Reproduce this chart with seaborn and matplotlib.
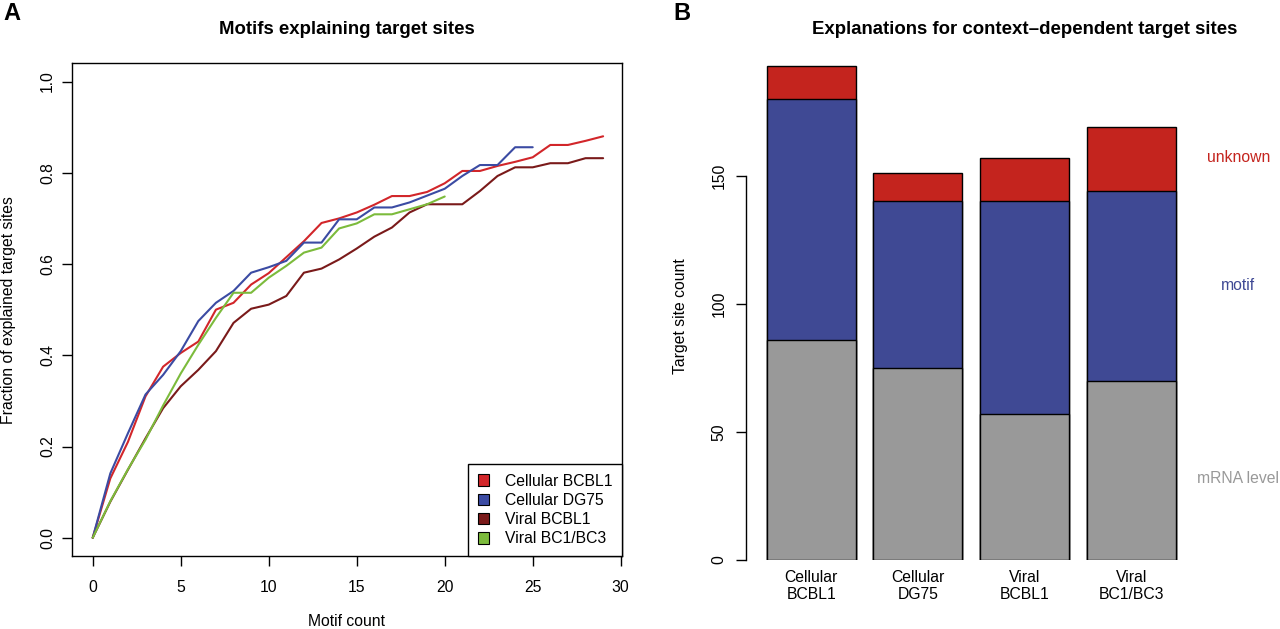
import numpy as np
import pandas as pd
import matplotlib
matplotlib.use("Agg")
import matplotlib.pyplot as plt
from matplotlib.patches import Patch
import seaborn as sns

sns.set_style("ticks", {"axes.edgecolor": "black", "xtick.color": "black", "ytick.color": "black",
                        "text.color": "black", "axes.labelcolor": "black"})
plt.rcParams["font.family"] = ["Liberation Sans", "DejaVu Sans"]

# %%
# panel A: fraction of explained target sites vs number of motifs
frac_cellular_bcbl1 = [0.0, 0.13, 0.21, 0.31, 0.375, 0.405, 0.43, 0.50, 0.515, 0.555,
                       0.58, 0.615, 0.65, 0.69, 0.70, 0.713, 0.73, 0.749, 0.749, 0.758,
                       0.777, 0.804, 0.804, 0.815, 0.824, 0.834, 0.861, 0.861, 0.87, 0.88]
frac_cellular_dg75 = [0.0, 0.141, 0.229, 0.314, 0.357, 0.409, 0.475, 0.515, 0.541, 0.581,
                      0.593, 0.607, 0.647, 0.647, 0.698, 0.698, 0.724, 0.724, 0.735, 0.75,
                      0.765, 0.793, 0.817, 0.817, 0.856, 0.856]
frac_viral_bcbl1 = [0.0, 0.079, 0.149, 0.218, 0.284, 0.332, 0.368, 0.409, 0.471, 0.502,
                    0.511, 0.53, 0.581, 0.59, 0.61, 0.634, 0.66, 0.68, 0.713, 0.731,
                    0.731, 0.731, 0.76, 0.793, 0.812, 0.812, 0.821, 0.821, 0.832, 0.832]
frac_viral_bc1bc3 = [0.0, 0.08, 0.15, 0.215, 0.29, 0.36, 0.423, 0.482, 0.537, 0.537,
                     0.57, 0.596, 0.625, 0.636, 0.678, 0.689, 0.709, 0.709, 0.72, 0.731,
                     0.748]
series_names = ["Cellular BCBL1", "Cellular DG75", "Viral BCBL1", "Viral BC1/BC3"]
series_colors = ["#D2262A", "#3B4BA3", "#7A1A1A", "#7CBB3C"]

# panel B: stacked explanation counts
bar_labels = ["Cellular\nBCBL1", "Cellular\nDG75", "Viral\nBCBL1", "Viral\nBC1/BC3"]
count_mrna = [86, 75, 57, 70]
count_motif = [94, 65, 83, 74]
count_unknown = [13, 11, 17, 25]
stack_names = ["mRNA level", "motif", "unknown"]
stack_colors = ["#999999", "#3F4994", "#C4241E"]
stack_label_y = [32, 107, 157]  # where the side labels sit

# %%
df = pd.concat([
    pd.DataFrame({"motifs": range(len(v)), "fraction": v, "set": name})
    for name, v in zip(series_names, [frac_cellular_bcbl1, frac_cellular_dg75,
                                      frac_viral_bcbl1, frac_viral_bc1bc3])
])

W, H = 1280, 629
def px_box(l, t, r, b):
    return [l / W, 1 - b / H, (r - l) / W, (b - t) / H]

fig = plt.figure(figsize=(W / 100, H / 100), dpi=100)

# ---- A
ax = fig.add_axes(px_box(72.3, 63.3, 622.3, 556))
sns.lineplot(data=df, x="motifs", y="fraction", hue="set", hue_order=series_names,
             palette=dict(zip(series_names, series_colors)), estimator=None,
             linewidth=1.5, legend=False, ax=ax)
ax.set_xlim(-1.16, 30.09)
ax.set_ylim(-0.040, 1.040)
ax.set_xticks(range(0, 31, 5))
ax.set_yticks([0, 0.2, 0.4, 0.6, 0.8, 1.0])
ax.set_yticklabels(["0.0", "0.2", "0.4", "0.6", "0.8", "1.0"], rotation=90, va="center")
ax.tick_params(axis="both", length=7.2, width=1, labelsize=11.3)
ax.tick_params(axis="x", pad=10)
ax.tick_params(axis="y", pad=5.3)
for s in ax.spines.values():
    s.set_linewidth(1)
ax.set_xlabel("")
ax.set_ylabel("")

handles = [Patch(facecolor=c, edgecolor="black", linewidth=0.8) for c in series_colors]
leg = ax.legend(handles, series_names, loc="lower right", bbox_to_anchor=(1, 0),
                borderaxespad=0, fontsize=11.3, fancybox=False, framealpha=1,
                edgecolor="black", handlelength=0.75, handleheight=0.75,
                handletextpad=1.0, labelspacing=0.27, borderpad=0.62)
leg.get_frame().set_linewidth(1)

# ---- B
ax2 = fig.add_axes(px_box(746, 63.3, 1303, 560))
cum_motif = [m + mo for m, mo in zip(count_mrna, count_motif)]
cum_total = [c + u for c, u in zip(cum_motif, count_unknown)]
for heights, col in zip([cum_total, cum_motif, count_mrna], stack_colors[::-1]):
    sns.barplot(x=bar_labels, y=heights, color=col, saturation=1, width=0.833,
                edgecolor="black", linewidth=1, ax=ax2)
ax2.set_xlim(-0.61, 4.605)
ax2.set_ylim(0, 193.9)
ax2.set_yticks([0, 50, 100, 150])
ax2.set_yticklabels(["0", "50", "100", "150"], rotation=90, va="center")
ax2.tick_params(axis="y", length=7.2, width=1, labelsize=11.3, pad=6.8)
ax2.tick_params(axis="x", length=0, labelsize=11.3, pad=7)
for side in ["top", "right", "bottom"]:
    ax2.spines[side].set_visible(False)
ax2.spines["left"].set_bounds(0, 150)
ax2.spines["left"].set_linewidth(1)
ax2.set_xlabel("")
ax2.set_ylabel("")

last = len(bar_labels) - 1
for name, col, y in zip(stack_names, stack_colors, stack_label_y):
    ax2.text(last + 1.0, y, name, color=col, ha="center", va="center",
             fontsize=11.3, clip_on=False)

# ---- texts
def ftext(x, y, s, **kw):
    fig.text(x / W, 1 - y / H, s, **kw)

ftext(3, 2, "A", fontsize=17, fontweight="bold", ha="left", va="top")
ftext(673, 2, "B", fontsize=17, fontweight="bold", ha="left", va="top")
ftext(347, 34, "Motifs explaining target sites", fontsize=13.4, fontweight="bold",
      ha="center", va="baseline")
ftext(1024.7, 34, "Explanations for context\u2013dependent target sites", fontsize=13.4,
      fontweight="bold", ha="center", va="baseline")
ftext(347, 622, "Motif count", fontsize=11.3, ha="center", va="center")
ftext(9, 309.6, "Fraction of explained target sites", fontsize=11.3, rotation=90,
      ha="center", va="center")
ftext(680, 316, "Target site count", fontsize=11.3, rotation=90, ha="center", va="center")

fig.savefig("out.png", dpi=100)
